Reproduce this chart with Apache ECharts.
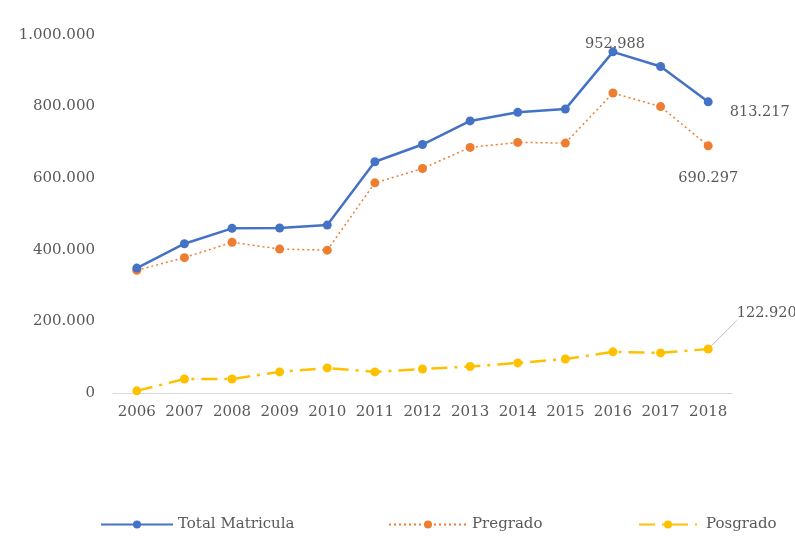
<!DOCTYPE html>
<html>
<head>
<meta charset="utf-8">
<script src="https://cdn.jsdelivr.net/npm/echarts@6/dist/echarts.min.js"></script>
<style>
html,body{margin:0;padding:0;background:#fff;}
#chart{width:795px;height:541px;}
</style>
</head>
<body>
<div id="chart"></div>
<script>
const years = ['2006','2007','2008','2009','2010','2011','2012','2013','2014','2015','2016','2017','2018'];
const totalMatricula = [349000, 417000, 460000, 461000, 469000, 646000, 694000, 760000, 784000, 793000, 952988, 912000, 813217];
const pregrado = [343000, 378000, 421000, 402000, 399000, 587000, 627000, 686000, 700000, 698000, 838000, 800000, 690297];
const posgrado = [6000, 39000, 39000, 59000, 70000, 59000, 67000, 74000, 84000, 95000, 114988, 112000, 122920];
const yTicks = [0, 200000, 400000, 600000, 800000, 1000000];

const FONT = 'DejaVu Serif';
const TXT = '#595959';
function fmt(v){ return String(Math.round(v)).replace(/\B(?=(\d{3})+(?!\d))/g, '.'); }

function withLabels(arr, labelMap){
  return arr.map((v,i)=> labelMap[i] ? {value:v, label:Object.assign({show:true, formatter:(p)=>fmt(p.value), color:TXT, fontFamily:FONT, fontSize:14.5}, labelMap[i])} : v);
}

const chart = echarts.init(document.getElementById('chart'), null, {renderer:'canvas'});
const option = {
  animation:false,
  backgroundColor:'#fff',
  grid:{left:113, right:63, top:35, bottom:148},
  xAxis:{
    type:'category', data:years, boundaryGap:true,
    axisLine:{show:true, lineStyle:{color:'#D9D9D9', width:1}},
    axisTick:{show:false},
    axisLabel:{color:TXT, fontFamily:FONT, fontSize:15, margin:12, interval:0},
    splitLine:{show:false}
  },
  yAxis:{
    type:'value', min:yTicks[0], max:yTicks[yTicks.length-1], interval:yTicks[1]-yTicks[0],
    axisLine:{show:false}, axisTick:{show:false},
    axisLabel:{color:TXT, fontFamily:FONT, fontSize:15, margin:18, formatter:fmt},
    splitLine:{show:false}
  },
  legend:[
    {data:['Total Matricula'], left:95, top:512, itemWidth:72, itemHeight:10,
     textStyle:{color:TXT, fontFamily:FONT, fontSize:15}},
    {data:['Pregrado'], left:383, top:512, itemWidth:78, itemHeight:10,
     textStyle:{color:TXT, fontFamily:FONT, fontSize:15}},
    {data:['Posgrado'], left:633, top:512, itemWidth:58, itemHeight:10,
     textStyle:{color:TXT, fontFamily:FONT, fontSize:15, padding:[0,0,0,4]}}
  ],
  series:[
    {
      name:'Total Matricula', type:'line', data:withLabels(totalMatricula, {10:{position:'top', distance:0, offset:[2,4]}, 12:{position:'right', distance:17, offset:[0,10]}}),
      symbol:'circle', symbolSize:9, color:'#4472C4',
      lineStyle:{color:'#4472C4', width:2.5},
      itemStyle:{color:'#4472C4'}, z:3
    },
    {
      name:'Pregrado', type:'line', data:withLabels(pregrado, {12:{position:'bottom', distance:20}}),
      symbol:'circle', symbolSize:9, color:'#ED7D31',
      lineStyle:{color:'#ED7D31', width:1.5, type:[2,3]},
      itemStyle:{color:'#ED7D31'}, z:2
    },
    {
      name:'Posgrado', type:'line', data:withLabels(posgrado, {12:{position:'right', distance:24, offset:[0,-36]}}),
      symbol:'circle', symbolSize:9, color:'#FFC000',
      lineStyle:{color:'#FFC000', width:2.5, type:[16,7,3,7]},
      itemStyle:{color:'#FFC000'}, z:2,
      labelLine:{show:true, lineStyle:{color:'#BFBFBF', width:1}}
    }
  ]
};
chart.setOption(option);
</script>
</body>
</html>
